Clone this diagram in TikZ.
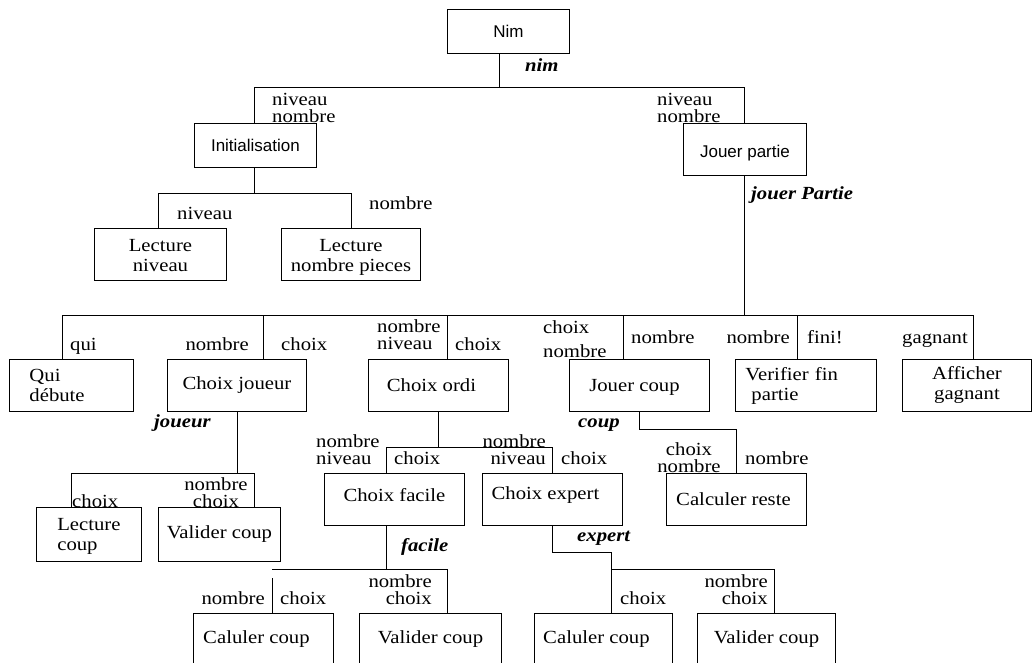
\documentclass[tikz,border=0pt]{standalone}
\usepackage{fontspec}
\setmainfont{Liberation Serif}[FakeStretch=1.12]
\newfontfamily\sansf{Liberation Sans}
\newcommand{\shiftv}[2]{\raisebox{#1}[\height][\depth]{#2}}
\begin{document}
\begin{tikzpicture}[x=1pt,y=-1pt,
  box/.style={draw, line width=0.9pt, inner sep=0pt, anchor=north west, align=center,
    font=\fontsize{18.5}{20}\selectfont},
  sbox/.style={box, font=\sansf\fontsize{17}{20}\selectfont},
  lbl/.style={inner sep=0pt, font=\fontsize{18.5}{16.5}\selectfont},
  bil/.style={inner sep=0pt, font=\fontsize{18.5}{16.5}\selectfont\bfseries\itshape},
  wire/.style={line width=0.9pt, draw=black}]
\useasboundingbox (0,0) rectangle (1032,662);
\clip (0,0) rectangle (1032,662);
% ---------- boxes ----------
\node[sbox, minimum width=122pt, minimum height=44pt] (nim) at (447,9) {Nim};
\node[sbox, minimum width=122pt, minimum height=44pt] (init) at (194,123) {Initialisation};
\node[sbox, minimum width=123pt, minimum height=52pt] (jp) at (683,123) {\shiftv{-4pt}{Jouer partie}};
\node[box, minimum width=132pt, minimum height=52pt] (ln) at (94,228) {\shiftv{-3pt}{\begin{tabular}{@{}c@{}}Lecture\\niveau\end{tabular}}};
\node[box, minimum width=139pt, minimum height=52pt] (lnp) at (281,228) {\shiftv{-3pt}{\begin{tabular}{@{}c@{}}Lecture\\nombre pieces\end{tabular}}};
\node[box, text width=84pt, inner xsep=20pt, align=left, minimum height=52pt] (qui) at (9,359) {Qui\\d\'ebute};
\node[box, minimum width=139pt, minimum height=52pt] (cj) at (167,359) {Choix joueur};
\node[box, minimum width=140pt, minimum height=52pt] (co) at (368,359) {Choix ordi\hspace*{14pt}};
\node[box, minimum width=140pt, minimum height=52pt] (jc) at (569,359) {\shiftv{-2pt}{Jouer coup}\hspace*{10pt}};
\node[box, text width=121pt, inner xsep=10pt, align=left, minimum height=52pt] (vf) at (735,359) {Verifier fin\\\hspace*{6pt}partie};
\node[box, minimum width=129pt, minimum height=52pt] (ag) at (902,359) {Afficher\\gagnant};
\node[box, minimum width=105pt, minimum height=54pt] (lc) at (36,507) {\shiftv{-2pt}{\begin{tabular}{@{}l@{}}Lecture\\coup\end{tabular}}};
\node[box, minimum width=122pt, minimum height=54pt] (vc) at (158,507) {Valider coup};
\node[box, minimum width=140pt, minimum height=52pt] (cf) at (324,473) {\shiftv{4pt}{Choix facile}};
\node[box, minimum width=140pt, minimum height=52pt] (ce) at (482,473) {\shiftv{4pt}{Choix expert}\hspace*{14pt}};
\node[box, minimum width=140pt, minimum height=52pt] (cr) at (666,473) {Calculer reste\hspace*{6pt}};
\node[box, minimum width=140pt, minimum height=52pt] (cc1) at (193,613) {Caluler coup\hspace*{14pt}};
\node[box, minimum width=142pt, minimum height=52pt] (vc1) at (359,613) {Valider coup};
\node[box, minimum width=138pt, minimum height=52pt] (cc2) at (534,613) {Caluler coup\hspace*{14pt}};
\node[box, minimum width=138pt, minimum height=52pt] (vc2) at (697,613) {Valider coup};
% ---------- junctions ----------
\coordinate (t0) at (499,87);
\coordinate (t1) at (254,87);
\coordinate (t2) at (744,87);
\coordinate (a0) at (254,193);
\coordinate (a1) at (158,193);
\coordinate (a2) at (351,193);
\coordinate (m0) at (744,315);
\coordinate (m1) at (62,315);
\coordinate (m2) at (263,315);
\coordinate (m3) at (447,315);
\coordinate (m4) at (623,315);
\coordinate (m5) at (797,315);
\coordinate (m6) at (973,315);
\coordinate (b0) at (237,473);
\coordinate (b1) at (71,473);
\coordinate (b2) at (254,473);
\coordinate (c0) at (438,447);
\coordinate (c1) at (386,447);
\coordinate (c2) at (552,447);
\coordinate (d0) at (639,429);
\coordinate (d1) at (736,429);
\coordinate (f0) at (386,569);
\coordinate (f1) at (272,569);
\coordinate (f1g) at (272,578);
\coordinate (f2) at (447,569);
\coordinate (e0) at (552,552);
\coordinate (e1) at (611,552);
\coordinate (e2) at (611,569);
\coordinate (e3) at (774,569);
% ---------- connectors ----------
\draw[wire] (nim.south -| t0) -- (t0);
\draw[wire] (t1) -- (t2);
\draw[wire] (t1) -- (t1 |- init.north);
\draw[wire] (t2) -- (t2 |- jp.north);
\draw[wire] (init.south -| a0) -- (a0);
\draw[wire] (a1) -- (a2);
\draw[wire] (a1) -- (a1 |- ln.north);
\draw[wire] (a2) -- (a2 |- lnp.north);
\draw[wire] (jp.south -| m0) -- (m0);
\draw[wire] (m1) -- (m6);
\draw[wire] (m1) -- (m1 |- qui.north);
\draw[wire] (m2) -- (m2 |- cj.north);
\draw[wire] (m3) -- (m3 |- co.north);
\draw[wire] (m4) -- (m4 |- jc.north);
\draw[wire] (m5) -- (m5 |- vf.north);
\draw[wire] (m6) -- (m6 |- ag.north);
\draw[wire] (cj.south -| b0) -- (b0);
\draw[wire] (b1) -- (b2);
\draw[wire] (b1) -- (b1 |- lc.north);
\draw[wire] (b2) -- (b2 |- vc.north);
\draw[wire] (co.south -| c0) -- (c0);
\draw[wire] (c1) -- (c2);
\draw[wire] (c1) -- (c1 |- cf.north);
\draw[wire] (c2) -- (c2 |- ce.north);
\draw[wire] (jc.south -| d0) -- (d0) -- (d1) -- (d1 |- cr.north);
\draw[wire] (cf.south -| f0) -- (f0);
\draw[wire] (f1) -- (f2);
\draw[wire] (f1g) -- (f1g |- cc1.north);
\draw[wire] (f2) -- (f2 |- vc1.north);
\draw[wire] (ce.south -| e0) -- (e0) -- (e1) -- (e2);
\draw[wire] (e2) -- (e3);
\draw[wire] (e2) -- (e2 |- cc2.north);
\draw[wire] (e3) -- (e3 |- vc2.north);
% ---------- labels (base = last line) ----------
\node[bil, anchor=base west] (lnim) at (525,71) {nim};
\node[lbl, anchor=base west, align=left] (l1) at (272,122) {niveau\\nombre};
\node[lbl, anchor=base west, align=left] (l2) at (657,122) {niveau\\nombre};
\node[bil, anchor=base west] (ljp) at (751,199) {jouer Partie};
\node[lbl, anchor=base west] (l3) at (177,219) {niveau};
\node[lbl, anchor=base west] (l4) at (369,209) {nombre};
\node[lbl, anchor=base west] (l5) at (70,350) {qui};
\node[lbl, anchor=base east] (l6) at (249,350) {nombre};
\node[lbl, anchor=base west] (l7) at (281,350) {choix};
\node[lbl, anchor=base west, align=left] (l8) at (377,349) {nombre\\niveau};
\node[lbl, anchor=base west] (l9) at (455,350) {choix};
\node[lbl, anchor=base west, align=left] (l10) at (543,357) {choix\\[7.5pt]nombre};
\node[lbl, anchor=base west] (l11) at (631,343) {nombre};
\node[lbl, anchor=base east] (l12) at (790,343) {nombre};
\node[lbl, anchor=base west] (l13) at (807,343) {fini!};
\node[lbl, anchor=base east] (l14) at (968,343) {gagnant};
\node[bil, anchor=base west] (ljo) at (154,427) {joueur};
\node[lbl, anchor=base west] (l15) at (72,507) {choix};
\node[lbl, anchor=base, align=center] (l16) at (216,507) {nombre\\choix};
\node[bil, anchor=base west] (lco) at (578,427) {coup};
\node[lbl, anchor=base, align=center] (l17) at (689,472) {choix\\nombre};
\node[lbl, anchor=base west] (l18) at (745,464) {nombre};
\node[lbl, anchor=base west, align=left] (l19) at (316,464) {nombre\\niveau};
\node[lbl, anchor=base west] (l20) at (394,464) {choix};
\node[lbl, anchor=base east, align=right] (l21) at (546,464) {nombre\\niveau};
\node[lbl, anchor=base west] (l22) at (561,464) {choix};
\node[bil, anchor=base west] (lfa) at (401,551) {facile};
\node[bil, anchor=base west] (lex) at (577,541) {expert};
\node[lbl, anchor=base east] (l23) at (265,604) {nombre};
\node[lbl, anchor=base west] (l24) at (280,604) {choix};
\node[lbl, anchor=base east, align=right] (l25) at (432,604) {nombre\\choix};
\node[lbl, anchor=base west] (l26) at (620,604) {choix};
\node[lbl, anchor=base east, align=right] (l27) at (768,604) {nombre\\choix};
\end{tikzpicture}
\end{document}
